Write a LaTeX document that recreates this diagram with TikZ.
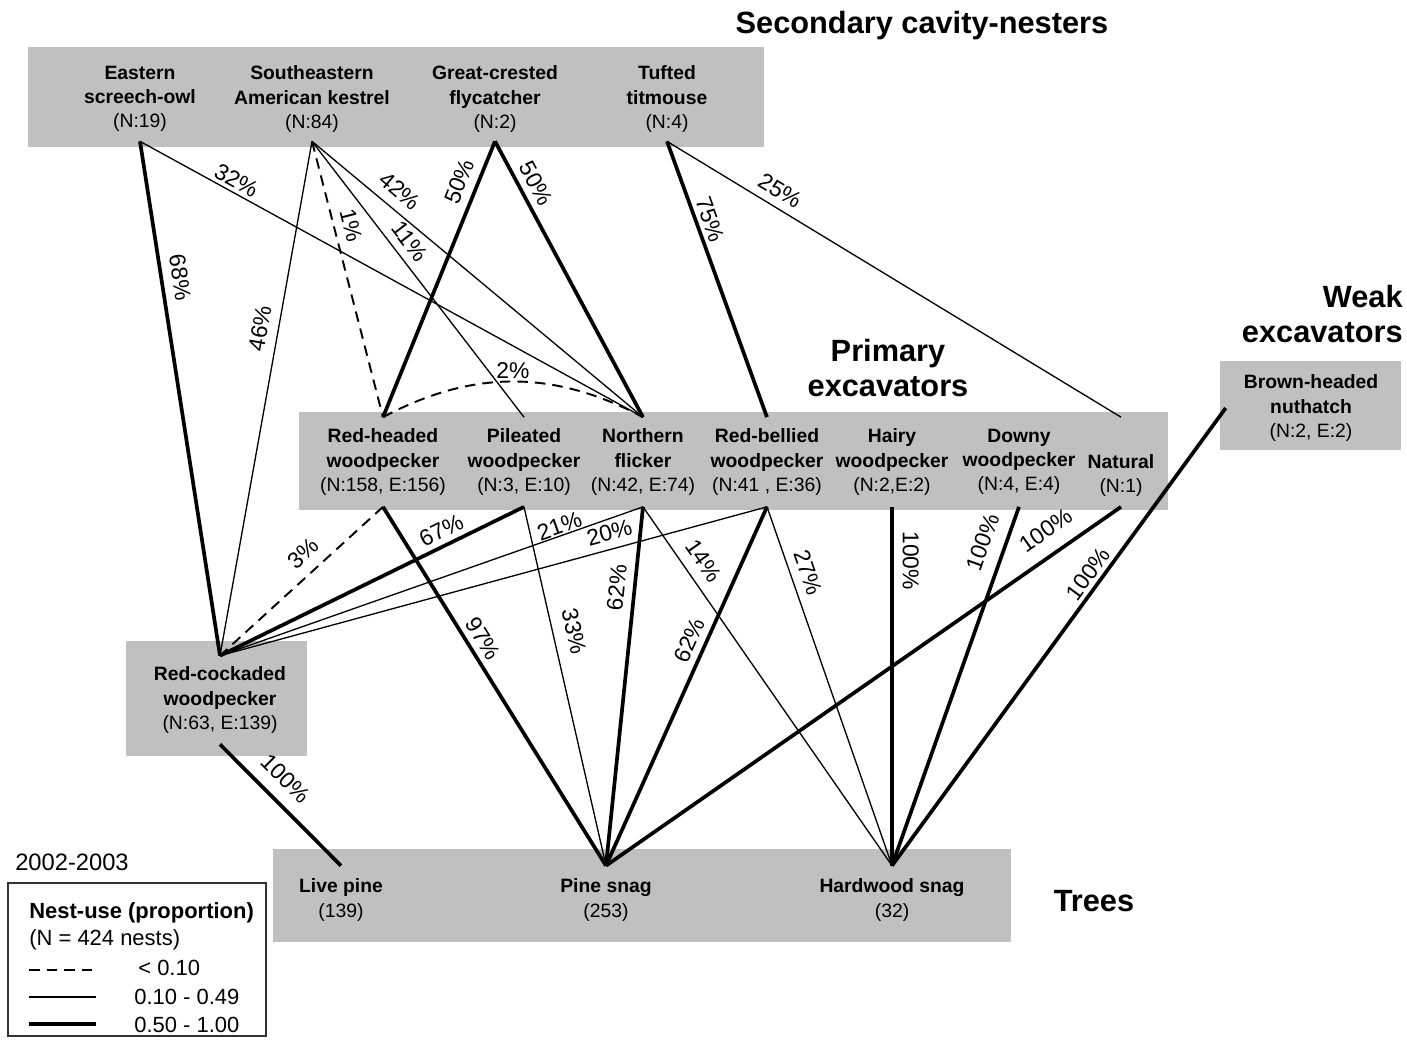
\documentclass[tikz,border=0pt]{standalone}
\usepackage{fontspec}
\setmainfont{Liberation Sans}
\usepackage{tikz}
\usetikzlibrary{fit}

\definecolor{panelgray}{RGB}{192,192,192}
\newcommand{\nestcount}[1]{{\mdseries #1}}

\begin{document}
\begin{tikzpicture}[x=0.02cm,y=-0.02cm,
  panel/.style={fill=panelgray,inner sep=0pt},
  bird/.style={align=center,inner sep=0pt,
               font=\fontsize{11}{13.8}\selectfont\bfseries},
  upper/.style={bird,minimum height=1.68cm},
  middle/.style={bird,minimum height=1.78cm},
  tree/.style={bird,minimum height=1.36cm},
  group/.style={align=center,inner sep=0pt,
                font=\fontsize{17.5}{20.4}\selectfont\bfseries},
  lbl/.style={font=\fontsize{13}{15}\selectfont,above,inner sep=4.5pt},
  pct/.style={lbl,sloped},
  legtxt/.style={anchor=west,inner sep=0pt,font=\fontsize{12.5}{15}\selectfont},
  heavy/.style={line width=2.1pt},
  light/.style={line width=0.75pt},
  faint/.style={line width=1.1pt,dash pattern=on 6pt off 4pt}]

  \useasboundingbox (0,0) rectangle (1407,1039);

  % grey panels
  \node[panel,fit={(28,47)(764,147)}] (secondary) {};
  \node[panel,fit={(299,412)(1168,510)}] (primary) {};
  \node[panel,fit={(1220,361)(1401,450)}] (weakbox) {};
  \node[panel,fit={(126,641)(307,756)}] (rcwbox) {};
  \node[panel,fit={(273,849)(1011,942)}] (treebox) {};

  % group titles
  \node[group] (sectitle) at (922,26) {Secondary cavity-nesters};
  \node[group] (primtitle) at (888,368) {Primary\\excavators};
  \node[group,align=right,anchor=east] (weaktitle) at (1403,314) {Weak\\excavators};
  \node[group] (treetitle) at (1094,901) {Trees};

  % secondary cavity-nesters
  \node[upper] (owl) at (140,99) {Eastern\\screech-owl\\\nestcount{(N:19)}};
  \node[upper] (kestrel) at (312,99) {Southeastern\\American kestrel\\\nestcount{(N:84)}};
  \node[upper] (flycatcher) at (495,99) {Great-crested\\flycatcher\\\nestcount{(N:2)}};
  \node[upper] (titmouse) at (667,99) {Tufted\\titmouse\\\nestcount{(N:4)}};

  % primary excavators
  \node[middle] (redhead) at (383,462) {Red-headed\\woodpecker\\\nestcount{(N:158, E:156)}};
  \node[middle] (pileated) at (524,462) {Pileated\\woodpecker\\\nestcount{(N:3, E:10)}};
  \node[middle] (flicker) at (643,462) {Northern\\flicker\\\nestcount{(N:42, E:74)}};
  \node[middle] (redbelly) at (767,462) {Red-bellied\\woodpecker\\\nestcount{(N:41 , E:36)}};
  \node[middle] (hairy) at (892,462) {Hairy\\woodpecker\\\nestcount{(N:2,E:2)}};
  \node[middle] (downy) at (1019,462) {Downy\\woodpecker\\\nestcount{(N:4, E:4)}};
  \node[middle] (natural) at (1121,462) {\strut\\Natural\\\nestcount{(N:1)}};

  % weak excavators
  \node[bird,minimum width=3.4cm] (nuthatch) at (1311,408)
       {Brown-headed\\nuthatch\\\nestcount{(N:2, E:2)}};

  % red-cockaded woodpecker
  \node[bird,minimum height=1.76cm] (rcw) at (220,700)
       {Red-cockaded\\woodpecker\\\nestcount{(N:63, E:139)}};

  % trees
  \node[tree] (livepine) at (341,900) {Live pine\\\nestcount{(139)}};
  \node[tree] (pinesnag) at (606,900) {Pine snag\\\nestcount{(253)}};
  \node[tree] (hardsnag) at (892,900) {Hardwood snag\\\nestcount{(32)}};

  % secondary cavity-nesters -> excavators
  \draw[heavy] (owl.south) -- node[pct,pos=.27,inner sep=5pt]{68\%} (rcw.north);
  \draw[light] (owl.south) -- node[pct,pos=.18,inner sep=2pt]{32\%} (flicker.north);
  \draw[light] (kestrel.south) -- node[pct,pos=.37,inner sep=5.5pt]{46\%} (rcw.north);
  \draw[faint] (kestrel.south) -- node[pct,pos=.32]{1\%} (redhead.north);
  \draw[light] (kestrel.south) -- node[pct,pos=.40]{11\%} (pileated.north);
  \draw[light] (kestrel.south) -- node[pct,pos=.23,inner sep=5.5pt]{42\%} (flicker.north);
  \draw[heavy] (flycatcher.south) -- node[pct,pos=.17]{50\%} (redhead.north);
  \draw[heavy] (flycatcher.south) -- node[pct,pos=.18,inner sep=3.5pt]{50\%} (flicker.north);
  \draw[heavy] (titmouse.south) -- node[pct,pos=.30,inner sep=2.5pt]{75\%} (redbelly.north);
  \draw[light] (titmouse.south) -- node[pct,pos=.23]{25\%} (natural.north);
  \draw[faint] (redhead.north) to[bend left=28] node[lbl,inner sep=1pt]{2\%} (flicker.north);

  % excavators -> red-cockaded woodpecker and trees
  \draw[faint] (redhead.south) -- node[pct,pos=.41,inner sep=6pt]{3\%} (rcw.north);
  \draw[heavy] (redhead.south) -- node[pct,pos=.39,inner sep=3.3pt]{97\%} (pinesnag.north);
  \draw[heavy] (pileated.south) -- node[pct,pos=.25,inner sep=3pt]{67\%} (rcw.north);
  \draw[light] (pileated.south) -- node[pct,pos=.36,inner sep=7pt]{33\%} (pinesnag.north);
  \draw[light] (flicker.south) -- node[pct,pos=.19,inner sep=0.5pt]{21\%} (rcw.north);
  \draw[heavy] (flicker.south) -- node[pct,pos=.23]{62\%} (pinesnag.north);
  \draw[light] (flicker.south) -- node[pct,pos=.18,inner sep=6pt]{14\%} (hardsnag.north);
  \draw[light] (redbelly.south) -- node[pct,pos=.28]{20\%} (rcw.north);
  \draw[heavy] (redbelly.south) -- node[pct,pos=.39,inner sep=3.5pt]{62\%} (pinesnag.north);
  \draw[light] (redbelly.south) -- node[pct,pos=.20,inner sep=5pt]{27\%} (hardsnag.north);
  \draw[heavy] (hairy.south) -- node[pct,pos=.15,inner sep=5pt]{100\%} (hardsnag.north);
  \draw[heavy] (downy.south) -- node[pct,pos=.12,inner sep=7pt]{100\%} (hardsnag.north);
  \draw[heavy] (natural.south) -- node[pct,pos=.12,inner sep=8pt]{100\%} (pinesnag.north);
  \draw[heavy] (nuthatch.west) -- node[pct,pos=.38,inner sep=2pt]{100\%} (hardsnag.north);
  \draw[heavy] (rcw.south) -- node[pct,pos=.41,inner sep=7pt]{100\%} (livepine.north);

  % legend
  \node[font=\fontsize{13.5}{16}\selectfont] (period) at (72,862) {2002-2003};
  \node[draw=black!80,line width=0.9pt,inner sep=0pt,fit={(8,883)(266,1036)}] (legend) {};
  \node[legtxt,font=\fontsize{12.5}{15}\selectfont\bfseries] (legtitle) at (29,913) {Nest-use (proportion)};
  \node[legtxt] (legcount) at (29,940) {(N = 424 nests)};
  \coordinate (dashkey) at (29,970);
  \coordinate (thinkey) at (29,997);
  \coordinate (thickkey) at (29,1024);
  \draw[faint] (dashkey) -- ++(67,0);
  \draw[light] (thinkey) -- ++(67,0);
  \draw[heavy] (thickkey) -- ++(67,0);
  \node[legtxt] (dashtxt) at (138,968) {< 0.10};
  \node[legtxt] (thintxt) at (134,997) {0.10 - 0.49};
  \node[legtxt] (thicktxt) at (134,1025) {0.50 - 1.00};
\end{tikzpicture}
\end{document}
